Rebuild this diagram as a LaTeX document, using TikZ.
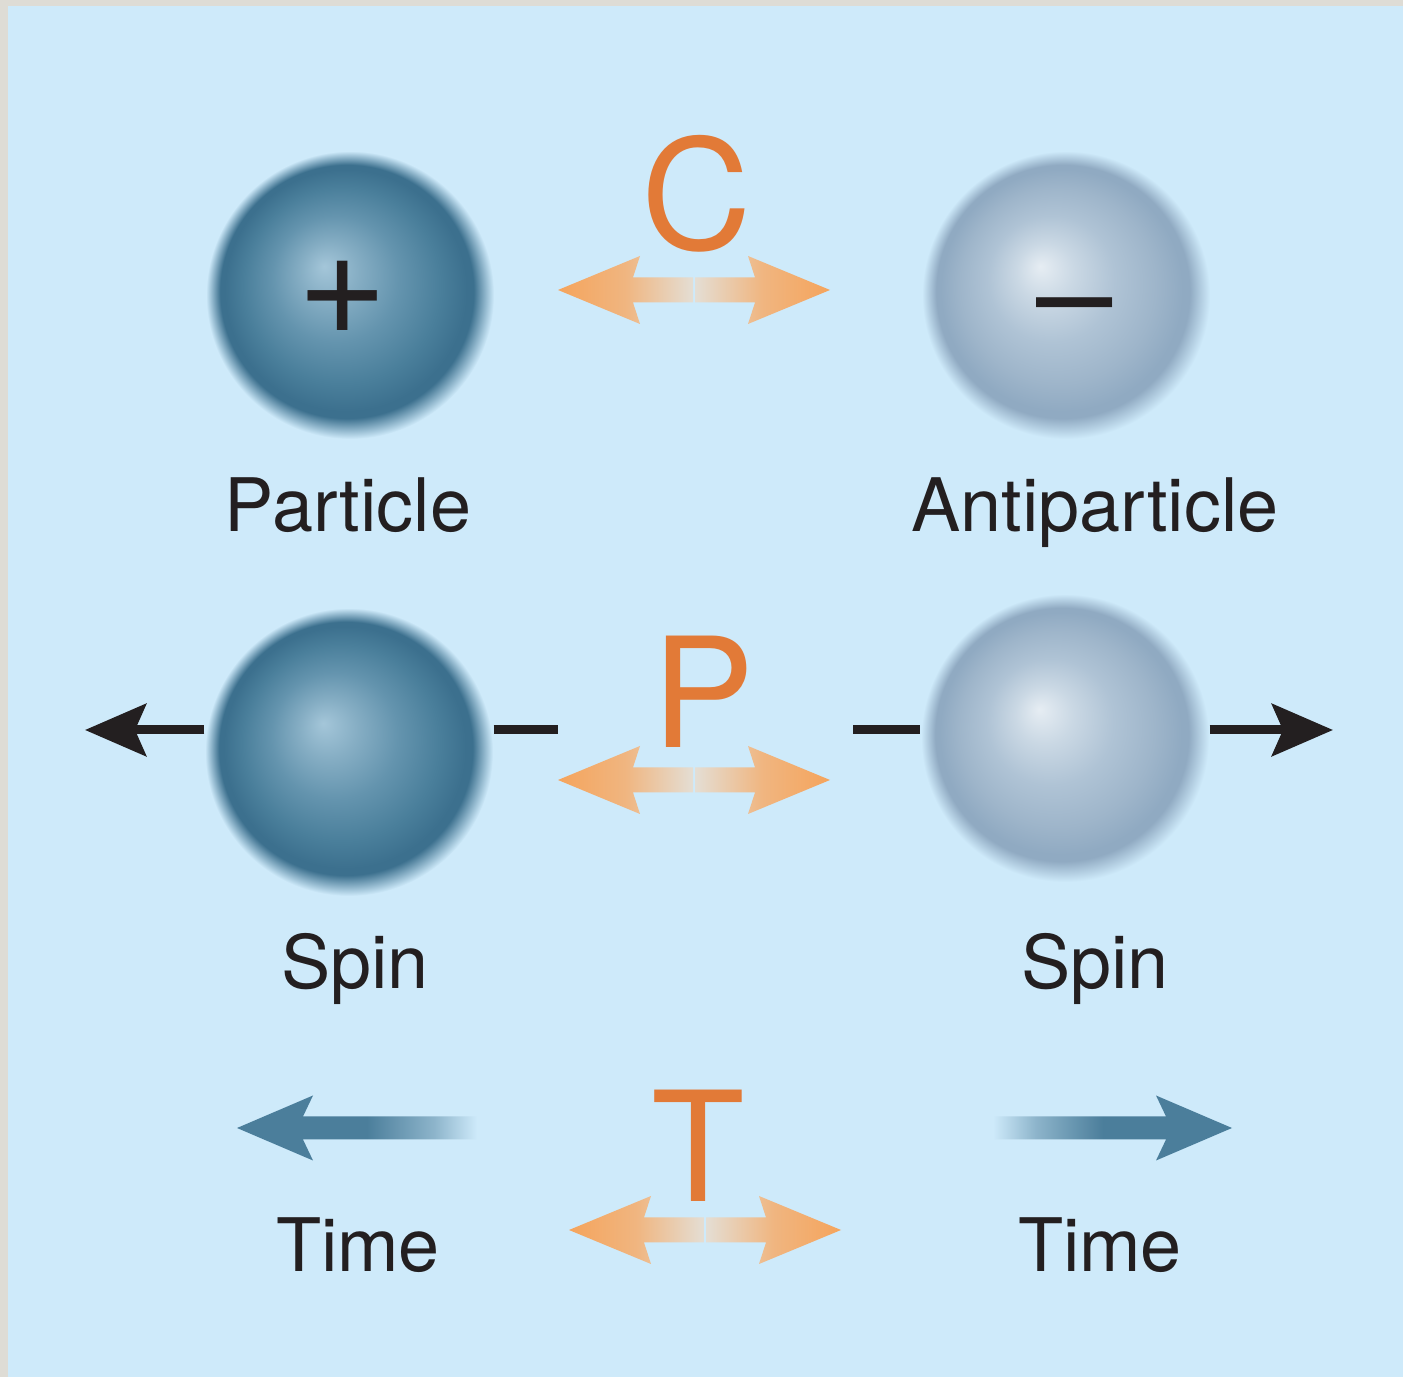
\documentclass[tikz,border=0pt]{standalone}
\usepackage{fontspec}
\setmainfont{TeX Gyre Heros}
\usepackage{xcolor}
\usepackage{tikz}
\usetikzlibrary{positioning,arrows.meta,calc}

\definecolor{panelblue}{RGB}{206,234,250}
\definecolor{framegray}{RGB}{222,220,213}
\definecolor{inkblack}{RGB}{35,31,32}
\definecolor{letterorange}{RGB}{226,122,55}
\definecolor{arrorange}{RGB}{245,164,92}
\definecolor{arrpale}{RGB}{228,222,212}
\definecolor{timeblue}{RGB}{75,126,155}
% particle (dark) sphere
\definecolor{darkhi}{RGB}{164,198,217}
\definecolor{darkA}{RGB}{134,174,196}
\definecolor{darkB}{RGB}{100,148,174}
\definecolor{darkC}{RGB}{74,127,155}
\definecolor{darkD}{RGB}{60,112,142}
% antiparticle (light) sphere
\definecolor{lighthi}{RGB}{230,237,243}
\definecolor{lightA}{RGB}{202,216,228}
\definecolor{lightB}{RGB}{175,195,213}
\definecolor{lightC}{RGB}{158,181,202}
\definecolor{lightD}{RGB}{144,170,194}

\pgfdeclareradialshading{darkball}{\pgfpoint{-4.5bp}{5bp}}{color(0bp)=(darkhi); color(5bp)=(darkA); color(11bp)=(darkB); color(17bp)=(darkC); color(21bp)=(darkD); color(22bp)=(darkD); color(25bp)=(panelblue)}
\pgfdeclareradialshading{lightball}{\pgfpoint{-4.5bp}{5bp}}{color(0bp)=(lighthi); color(5bp)=(lightA); color(11bp)=(lightB); color(17bp)=(lightC); color(21bp)=(lightD); color(22bp)=(lightD); color(25bp)=(panelblue)}
\pgfdeclarehorizontalshading{swapL}{100bp}{color(0bp)=(arrorange); color(25bp)=(arrorange); color(50bp)=(arrorange!70!arrpale); color(75bp)=(arrpale); color(100bp)=(arrpale)}
\pgfdeclarehorizontalshading{swapR}{100bp}{color(0bp)=(arrpale); color(25bp)=(arrpale); color(50bp)=(arrorange!70!arrpale); color(75bp)=(arrorange); color(100bp)=(arrorange)}
\pgfdeclarehorizontalshading{timefadeL}{100bp}{color(0bp)=(timeblue); color(25bp)=(timeblue); color(52bp)=(timeblue); color(66bp)=(timeblue!50!panelblue); color(75bp)=(panelblue); color(100bp)=(panelblue)}
\pgfdeclarehorizontalshading{timefadeR}{100bp}{color(0bp)=(panelblue); color(25bp)=(panelblue); color(34bp)=(timeblue!50!panelblue); color(48bp)=(timeblue); color(100bp)=(timeblue)}

\begin{document}
\begin{tikzpicture}[
    sphere/.style={circle, inner sep=0pt, minimum size=2.88cm, shade, shading=#1},
    sphere/.default=darkball,
    lbl/.style={font=\fontsize{21pt}{25pt}\selectfont, text=inkblack, inner sep=0pt},
    opletter/.style={font=\fontsize{43.5pt}{50pt}\selectfont, text=letterorange, inner sep=0pt, anchor=base},
    sign/.style={font=\fontsize{#1}{50pt}\selectfont, text=inkblack, inner sep=0pt},
    spinarr/.style={-{Stealth[length=6.1mm, width=5.2mm, inset=1.1mm]}, line width=0.09cm, inkblack},
    spinbar/.style={line width=0.09cm, inkblack},
    swaparrow/.pic={
      \shade[shading=swapL] (-1.36,0) -- (-0.54,0.34) -- (-0.61,0.125) -- (-0.01,0.125)
        -- (-0.01,-0.125) -- (-0.61,-0.125) -- (-0.54,-0.34) -- cycle;
      \shade[shading=swapR] (1.36,0) -- (0.54,0.34) -- (0.61,0.125) -- (0.01,0.125)
        -- (0.01,-0.125) -- (0.61,-0.125) -- (0.54,-0.34) -- cycle;
    },
    timeleft/.pic={
      \shade[shading=timefadeL] (0,0) -- (0.76,0.325) -- (0.66,0.115) -- (2.40,0.115)
        -- (2.40,-0.115) -- (0.66,-0.115) -- (0.76,-0.325) -- cycle;
    },
    timeright/.pic={
      \shade[shading=timefadeR] (0,0) -- (-0.76,0.325) -- (-0.66,0.115) -- (-2.39,0.115)
        -- (-2.39,-0.115) -- (-0.66,-0.115) -- (-0.76,-0.325) -- cycle;
    },
]

% --- Frame and panel ---
\useasboundingbox (0,0) rectangle (14.03,13.77);
\fill[framegray] (0,0) rectangle (14.03,13.77);
\fill[panelblue] (0.08,0) rectangle (14.03,13.71);

% --- C: charge ---
\node[sphere=darkball] (part) at (3.50,10.82) {};
\node[sphere=lightball] (anti) at (10.66,10.82) {};
\node[sign=44pt] (plus) at (3.43,10.79) {+};
\node[sign=39pt, anchor=base] (minus) at (10.75,10.36) {–};
\node[lbl, below=0.37cm of part, xshift=-0.02cm] (partlbl) {Particle};
\node[lbl, below=0.37cm of anti, xshift=0.29cm] (antilbl) {Antiparticle};

\coordinate (cswap) at (6.94,10.87);
\pic at (cswap) {swaparrow};
\node[opletter] (cletter) at (6.97,11.27) {C};

% --- P: parity ---
\node[sphere=darkball] (spinL) at (3.49,6.25) {};
\node[sphere=lightball] (spinR) at (10.65,6.39) {};

\coordinate (tipL) at (0.85,6.47);
\coordinate (barL) at (5.58,6.47);
\coordinate (barR) at (8.53,6.47);
\coordinate (tipR) at (13.33,6.47);
\draw[spinarr] (spinL.west |- tipL) -- (tipL);
\draw[spinbar] (spinL.east |- barL) -- (barL);
\draw[spinbar] (barR) -- (spinR.west |- barR);
\draw[spinarr] (spinR.east |- tipR) -- (tipR);

\node[lbl, below=0.36cm of spinL, xshift=0.06cm] (spinLlbl) {Spin};
\node[lbl, below=0.50cm of spinR, xshift=0.30cm] (spinRlbl) {Spin};

\coordinate (pswap) at (6.94,5.97);
\pic at (pswap) {swaparrow};
\node[opletter] (pletter) at (7.03,6.29) {P};

% --- T: time ---
\coordinate (timeLtip) at (2.37,2.49);
\coordinate (timeRtip) at (12.32,2.49);
\pic at (timeLtip) {timeleft};
\pic at (timeRtip) {timeright};
\node[lbl, anchor=base] (timeLlbl) at (3.58,1.05) {Time};
\node[lbl, anchor=base] (timeRlbl) at (11.00,1.05) {Time};

\coordinate (tswap) at (7.05,1.47);
\pic at (tswap) {swaparrow};
\node[opletter] (tletter) at (6.98,1.75) {T};

\end{tikzpicture}
\end{document}
